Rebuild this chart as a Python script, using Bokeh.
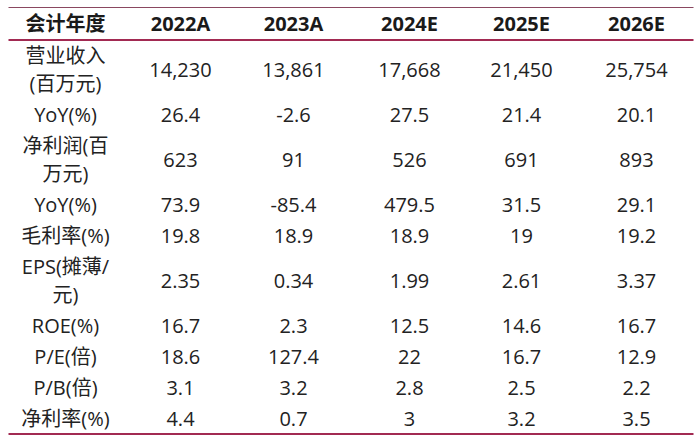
from bokeh.plotting import figure
from bokeh.models import Range1d
from bokeh.core.properties import value
from bokeh.embed import file_html
from bokeh.resources import INLINE

# ---- data ----
header_label = "会计年度"
years = ["2022A", "2023A", "2024E", "2025E", "2026E"]
row_labels = [
    "营业收入\n(百万元)",
    "YoY(%)",
    "净利润(百\n万元)",
    "YoY(%)",
    "毛利率(%)",
    "EPS(摊薄/\n元)",
    "ROE(%)",
    "P/E(倍)",
    "P/B(倍)",
    "净利率(%)",
]
revenue = ["14,230", "13,861", "17,668", "21,450", "25,754"]
revenue_yoy = ["26.4", "-2.6", "27.5", "21.4", "20.1"]
net_profit = ["623", "91", "526", "691", "893"]
profit_yoy = ["73.9", "-85.4", "479.5", "31.5", "29.1"]
gross_margin = ["19.8", "18.9", "18.9", "19", "19.2"]
eps = ["2.35", "0.34", "1.99", "2.61", "3.37"]
roe = ["16.7", "2.3", "12.5", "14.6", "16.7"]
pe = ["18.6", "127.4", "22", "16.7", "12.9"]
pb = ["3.1", "3.2", "2.8", "2.5", "2.2"]
net_margin = ["4.4", "0.7", "3", "3.2", "3.5"]
rows = [revenue, revenue_yoy, net_profit, profit_yoy, gross_margin,
        eps, roe, pe, pb, net_margin]

# ---- layout (screen pixel coordinates, y measured downward) ----
W, H = 700, 442
FONT = "'Open Sans', 'Noto Sans CJK SC'"
col_x = [65, 180, 293, 409, 521, 636]
rule_x0, rule_x1 = 8, 693
header_y = 23
top_rule, head_rule, bottom_rule = 7, 39.5, 433.5
single_h, double_h = 31, 59
line_gap = 28.5


def Y(v):
    return H - v


p = figure(width=W, height=H, output_backend="svg", toolbar_location=None,
           x_range=Range1d(0, W), y_range=Range1d(0, H), min_border=0)
p.axis.visible = False
p.grid.visible = False
p.outline_line_color = None
p.background_fill_color = "white"
p.border_fill_color = "white"

# rules (one renderer each)
p.line(x=[rule_x0, rule_x1], y=[Y(top_rule), Y(top_rule)],
       line_color="#8a4860", line_width=1.2)
p.line(x=[rule_x0, rule_x1], y=[Y(head_rule), Y(head_rule)],
       line_color="#a22a52", line_width=2)
p.line(x=[rule_x0, rule_x1], y=[Y(bottom_rule), Y(bottom_rule)],
       line_color="#a22a52", line_width=2)

# header
ht = [header_label] + years
p.text(x=col_x, y=[Y(header_y)] * len(col_x), text=ht, text_align="center",
       text_baseline="middle", text_font=value(FONT), text_font_size="20px",
       text_font_style="bold", text_color="#1a1a1a")

# body
lx, ly, lt = [], [], []
vx, vy, vt = [], [], []
y = head_rule
for lab, vals in zip(row_labels, rows):
    parts = lab.split("\n")
    h = double_h if len(parts) > 1 else single_h
    cy = y + h / 2
    for k, part in enumerate(parts):
        off = (k - (len(parts) - 1) / 2) * line_gap
        lx.append(col_x[0]); ly.append(Y(cy + off)); lt.append(part)
    for j, v in enumerate(vals):
        vx.append(col_x[j + 1]); vy.append(Y(cy)); vt.append(v)
    y += h

p.text(x=lx, y=ly, text=lt, text_align="center", text_baseline="middle",
       text_font=value(FONT), text_font_size="20px", text_color="#222222")
p.text(x=vx, y=vy, text=vt, text_align="center", text_baseline="middle",
       text_font=value(FONT), text_font_size="20px", text_color="#222222")

open("out.html", "w").write(file_html(p, INLINE))
